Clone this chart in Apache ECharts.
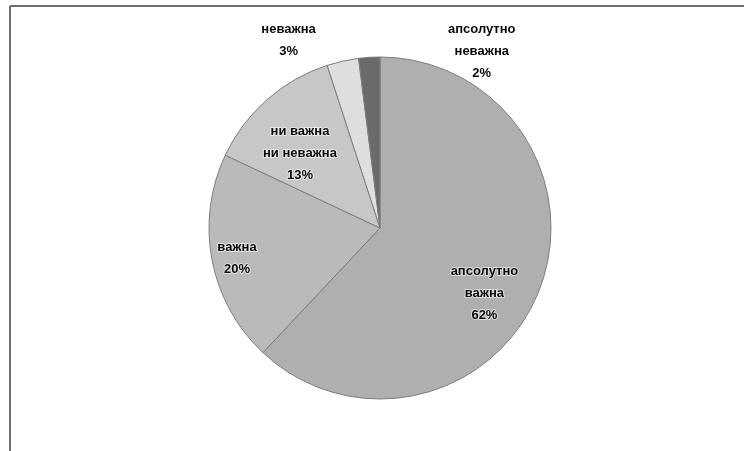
<!DOCTYPE html>
<html>
<head>
<meta charset="utf-8">
<script src="https://cdn.jsdelivr.net/npm/echarts@6/dist/echarts.min.js"></script>
<style>
  html, body { margin: 0; padding: 0; background: #fff; }
  #chart { width: 744px; height: 451px; }
</style>
</head>
<body>
<div id="chart"></div>
<script>
// Answer categories and their shares (percent)
const categories = ['апсолутно важна', 'важна', 'ни важна\nни неважна', 'неважна', 'апсолутно\nневажна'];
const shares = [62, 20, 13, 3, 2];
const sliceColors = ['#afafaf', '#bababa', '#c7c7c7', '#dedede', '#6a6a6a'];

// Label placement around the pie: angle clockwise from 12 o'clock (deg), distance as a fraction of the radius
const labelPlacement = [
  { angle: 122, k: 0.72, text: 'апсолутно\nважна' },
  { angle: 258, k: 0.855, text: 'важна' },
  { angle: 313, k: 0.64, text: 'ни важна\nни неважна' },
  { angle: 334, k: 1.22, text: 'неважна' },
  { angle: 30, k: 1.19, text: 'апсолутно\nневажна' }
];

const CX = 380, CY = 228, R = 171;

const chart = echarts.init(document.getElementById('chart'), null, { renderer: 'canvas' });

chart.setOption({
  backgroundColor: '#ffffff',
  animation: false,
  graphic: [
    { type: 'line', shape: { x1: 10, y1: 6, x2: 744, y2: 6 }, style: { stroke: '#6e6e6e', lineWidth: 2 } },
    { type: 'line', shape: { x1: 10, y1: 6, x2: 10, y2: 451 }, style: { stroke: '#6e6e6e', lineWidth: 2 } }
  ],
  series: [{
    type: 'pie',
    center: [CX, CY],
    radius: R,
    startAngle: 90,
    clockwise: true,
    avoidLabelOverlap: false,
    data: categories.map((name, i) => ({
      name: name,
      value: shares[i],
      itemStyle: { color: sliceColors[i] }
    })),
    itemStyle: { borderColor: '#7e7e7e', borderWidth: 1 },
    label: {
      show: true,
      position: 'inside',
      formatter: p => labelPlacement[p.dataIndex].text + '\n' + p.value + '%',
      fontFamily: 'Liberation Sans, Arial, sans-serif',
      fontWeight: 'bold',
      fontSize: 13,
      lineHeight: 22,
      color: '#0a0a0a',
      align: 'center',
      verticalAlign: 'middle',
      textBorderColor: 'rgba(255,255,255,0.55)',
      textBorderWidth: 2
    },
    labelLine: { show: false },
    labelLayout: function (params) {
      const pl = labelPlacement[params.dataIndex];
      const a = pl.angle * Math.PI / 180;
      return {
        x: CX + pl.k * R * Math.sin(a),
        y: CY - pl.k * R * Math.cos(a),
        align: 'center',
        verticalAlign: 'middle'
      };
    },
    emphasis: { disabled: true }
  }]
});
</script>
</body>
</html>
